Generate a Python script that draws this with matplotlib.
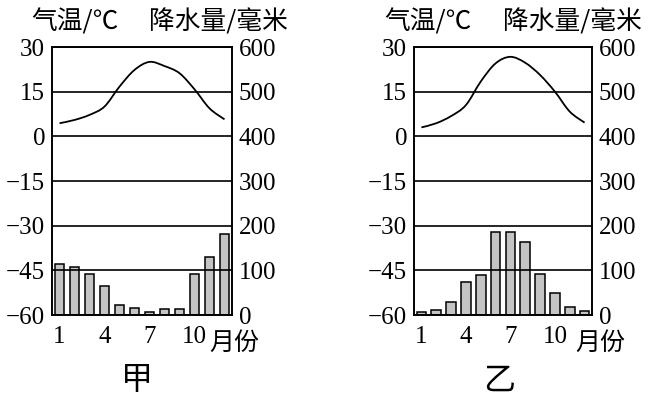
import matplotlib
matplotlib.use("Agg")
import matplotlib.pyplot as plt
import numpy as np
from matplotlib.path import Path
from matplotlib.patches import PathPatch
from matplotlib.transforms import blended_transform_factory

# ---- data ----
months = list(range(1, 13))
month_ticks = [1, 4, 7, 10]
month_tick_labels = ["1", "4", "7", "10"]
temp_ticks = [-60, -45, -30, -15, 0, 15, 30]
precip_ticks = [0, 100, 200, 300, 400, 500, 600]

temp_jia = [4.4, 5.5, 7.2, 10.0, 16.7, 22.3, 25.0, 23.6, 21.2, 15.8, 9.4, 5.7]
precip_jia = [115, 108, 92, 66, 22, 15, 7, 14, 13, 92, 130, 181]

temp_yi = [3.0, 4.4, 6.8, 10.5, 18.4, 24.5, 26.7, 24.7, 20.6, 15.0, 8.3, 4.6]
precip_yi = [7, 12, 30, 73, 89, 185, 186, 164, 92, 49, 17, 9]

panel_names = ["甲", "乙"]
temp_label = "气温/℃"
precip_label = "降水量/毫米"
month_word = "月份"

W, H = 652, 398
fig = plt.figure(figsize=(W / 100, H / 100), dpi=100)

serif = "Liberation Serif"
cjk = ["Noto Sans CJK SC", "DejaVu Sans"]


def smooth_path(xs, ys):
    xs = np.asarray(xs, float)
    ys = np.asarray(ys, float)
    n = len(xs)
    verts = [(xs[0], ys[0])]
    codes = [Path.MOVETO]
    for i in range(n - 1):
        p0 = np.array([xs[max(i - 1, 0)], ys[max(i - 1, 0)]])
        p1 = np.array([xs[i], ys[i]])
        p2 = np.array([xs[i + 1], ys[i + 1]])
        p3 = np.array([xs[min(i + 2, n - 1)], ys[min(i + 2, n - 1)]])
        c1 = p1 + (p2 - p0) / 6.0
        c2 = p2 - (p3 - p1) / 6.0
        verts += [tuple(c1), tuple(c2), tuple(p2)]
        codes += [Path.CURVE4] * 3
    return Path(verts, codes)


def panel(rect, temps, precs, name, name_xy, month_x, hdr_left_x, hdr_right_x):
    ax = fig.add_axes(rect)
    ax2 = ax.twinx()
    ax.set_zorder(ax2.get_zorder() + 1)
    ax.patch.set_visible(False)

    ax.set_xlim(0.5, 12.5)
    ax.set_ylim(-60, 30)
    ax2.set_ylim(0, 600)

    ax2.bar(months, precs, width=0.66, color="#c4c4c4", edgecolor="black",
            linewidth=1.1, zorder=1)

    ax.set_yticks(temp_ticks)
    ax.set_yticklabels([str(t) if t >= 0 else "\u2212" + str(-t) for t in temp_ticks],
                       fontfamily=serif, fontsize=18)
    ax2.set_yticks(precip_ticks)
    ax2.set_yticklabels([str(p) for p in precip_ticks], fontfamily=serif, fontsize=18)
    ax.set_xticks(month_ticks)
    ax.set_xticklabels(month_tick_labels, fontfamily=serif, fontsize=18)

    ax.tick_params(axis="y", length=0, pad=5)
    ax2.tick_params(axis="y", length=0, pad=5)
    ax.tick_params(axis="x", length=0, pad=8)

    ax.grid(axis="y", color="black", linewidth=1.2)
    ax.grid(axis="x", visible=False)

    for a in (ax, ax2):
        for s in a.spines.values():
            s.set_color("black")
            s.set_linewidth(1.2)

    ax.add_patch(PathPatch(smooth_path(months, temps), facecolor="none",
                           edgecolor="black", linewidth=1.3, zorder=5))

    tr = blended_transform_factory(ax.transData, ax.transAxes)
    ax.text(month_x, -0.055, month_word, transform=tr, ha="left", va="top",
            fontsize=18, family=cjk)

    fig.text(name_xy[0] / W, 1 - name_xy[1] / H, name, ha="center", va="center",
             fontsize=23, family=cjk)
    fig.text(hdr_left_x / W, 1 - 22 / H, temp_label, ha="left", va="center",
             fontsize=18.5, family=cjk)
    fig.text(hdr_right_x / W, 1 - 22 / H, precip_label, ha="left", va="center",
             fontsize=18.5, family=cjk)
    return ax


bottom = 1 - 315 / H
height = 268 / H
panel([52 / W, bottom, 180 / W, height], temp_jia, precip_jia, panel_names[0],
      (137, 380), 11.0, 31, 149)
panel([414 / W, bottom, 178 / W, height], temp_yi, precip_yi, panel_names[1],
      (499, 381), 11.4, 384, 503)

fig.savefig("out.png", dpi=100)
